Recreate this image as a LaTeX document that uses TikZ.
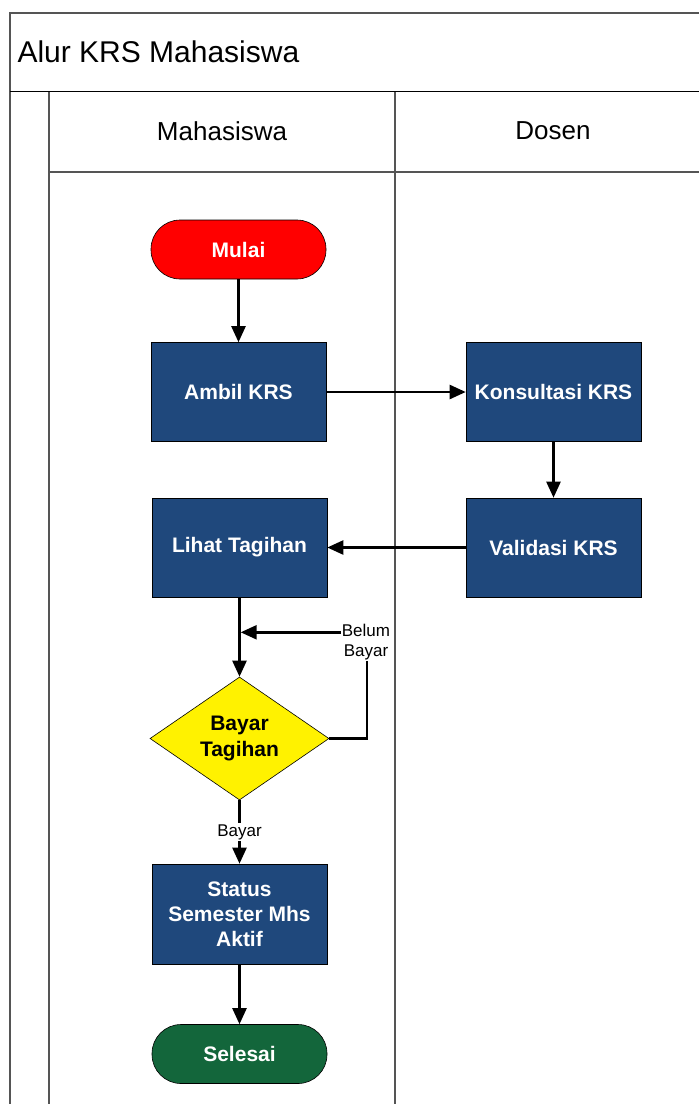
\documentclass[tikz,border=0pt]{standalone}
\usepackage{fontspec}
\setmainfont{Liberation Sans}
\usetikzlibrary{shapes.geometric,arrows.meta,calc}
\definecolor{procblue}{RGB}{31,72,124}
\definecolor{endgreen}{RGB}{19,102,59}
\definecolor{lanegray}{RGB}{85,85,85}
\begin{document}
\begin{tikzpicture}[x=1pt,y=-1pt,
  lane/.style={draw=lanegray,line width=1.6pt},
  procbox/.style={draw=black,line width=0.6pt,fill=procblue,text=white,font=\fontsize{21}{25}\selectfont\bfseries,
    minimum width=175pt,minimum height=99pt,inner sep=2pt,align=center},
  term/.style={draw=black,line width=0.6pt,text=white,font=\fontsize{21}{25}\selectfont\bfseries,
    minimum width=175pt,minimum height=59pt,rounded corners=29pt},
  decide/.style={diamond,aspect=1.455,draw=black,line width=0.6pt,fill=yellow,text=black,
    font=\fontsize{21}{26}\selectfont\bfseries,align=center,inner sep=0pt,minimum width=179pt,minimum height=123pt},
  flow/.style={draw=black,line width=2.4pt,-{Triangle[width=14pt,length=16pt]}},
  flowline/.style={draw=black,line width=2.4pt},
  small/.style={fill=white,font=\fontsize{17}{20}\selectfont,inner sep=1pt,align=center}
]
\useasboundingbox (0,0) rectangle (699,1104);
% swimlane frame
\draw[lane] (10,1110) -- (10,13) -- (710,13);
\draw[draw=black,line width=1.6pt] (10,91.5) -- (710,91.5);
\draw[lane,line width=1.2pt] (49,92) -- (49,1110);
\draw[lane,line width=1.2pt] (395,92) -- (395,1110);
\draw[lane,line width=1.2pt] (49,172) -- (710,172);
\node[anchor=west,font=\fontsize{30}{34}\selectfont] (title) at (14,52) {Alur KRS Mahasiswa};
\node[font=\fontsize{26}{30}\selectfont] (lane1) at (222,131) {Mahasiswa};
\node[font=\fontsize{26}{30}\selectfont] (lane2) at (553,131) {Dosen};
% nodes
\node[term,fill=red] (mulai) at (238.5,249.5) {Mulai};
\node[procbox] (ambil) at (238.5,392) {Ambil KRS};
\node[procbox] (konsul) at (553.5,392) {Konsultasi KRS};
\node[procbox] (valid) at (553.5,547.5) {Validasi KRS};
\node[procbox] (lihat) at (239.5,547.5) {Lihat Tagihan};
\node[decide] (bayar) at (239.5,738.5) {Bayar\\Tagihan};
\node[procbox,minimum height=100pt] (status) at (239.5,914) {Status\\Semester Mhs\\Aktif};
\node[term,fill=endgreen] (selesai) at (239.5,1054) {Selesai};
% connectors
\draw[flow] (mulai) -- (ambil);
\draw[flow] (ambil) -- (konsul);
\draw[flow] (konsul) -- (valid);
\draw[flow] (valid) -- (lihat);
\draw[flow] (lihat) -- (bayar);
\path (lihat.south) ++(0,35) coordinate (join);
\coordinate (loopc) at (367,738.5);
\draw[flowline] (bayar.east) -- (loopc) -- (loopc |- join);
\draw[flow] (loopc |- join) -- ($(join)+(1.2,0)$);
\node[small] (belum) at (366,642) {Belum\\Bayar};
\draw[flow] (bayar) -- node[small] (lbayar) {Bayar} (status);
\draw[flow] (status) -- (selesai);
\end{tikzpicture}
\end{document}
